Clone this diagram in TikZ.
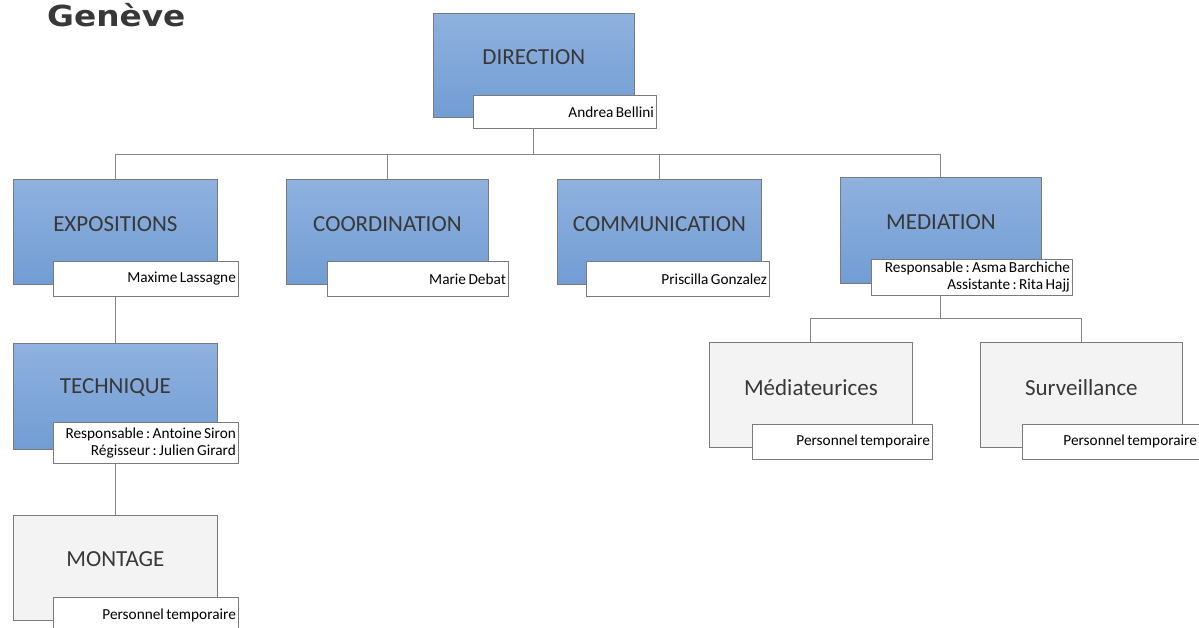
\documentclass[tikz,border=0pt]{standalone}
\usepackage{fontspec}
\setmainfont{Carlito}
\newfontfamily\genfont[FakeStretch=1.13]{DejaVu Sans}
\usetikzlibrary{shadings,calc}
\definecolor{blueTop}{HTML}{8FB1DE}
\definecolor{blueBot}{HTML}{719DD4}
\definecolor{greyFill}{HTML}{F3F3F3}
\definecolor{edge}{HTML}{7A7A7A}
\definecolor{titleCol}{HTML}{383838}
\definecolor{lineCol}{HTML}{858585}
\newcommand{\lblfont}{\fontsize{15.3}{17}\selectfont}
\newcommand{\tightspaces}{\frenchspacing\spaceskip=0.16em\relax}
\tikzset{
  bluebox/.style={draw=edge, line width=0.8pt, top color=blueTop, bottom color=blueBot, anchor=north west, inner sep=0pt},
  greybox/.style={draw=edge, line width=0.8pt, fill=greyFill, anchor=north west, inner sep=0pt},
  lbl/.style={draw=edge, line width=0.8pt, fill=white, anchor=north west, align=right, inner xsep=2.5pt, inner ysep=0pt, font=\lblfont, text=black, execute at begin node=\tightspaces},
  ttl/.style={font=\fontsize{23}{26}\selectfont, text=titleCol, inner sep=0pt},
  conn/.style={draw=lineCol, line width=0.9pt}
}
\begin{document}
\begin{tikzpicture}[x=1pt,y=-1pt]
\useasboundingbox (0,0) rectangle (1199,628);
\fill[white] (0,0) rectangle (1199,628);

% title
\node[anchor=base west, inner sep=0pt, font=\genfont\bfseries\fontsize{29}{32}\selectfont, text=titleCol] (geneve) at (47,27) {Genève};

% boxes
\node[bluebox, minimum width=201, minimum height=104] (dir) at (433,13) {};
\node[bluebox, minimum width=204, minimum height=105] (expo) at (13,179) {};
\node[bluebox, minimum width=202, minimum height=105] (coord) at (286,179) {};
\node[bluebox, minimum width=204, minimum height=105] (comm) at (557,179) {};
\node[bluebox, minimum width=201, minimum height=106] (med) at (840,177) {};
\node[bluebox, minimum width=204, minimum height=106] (tech) at (13,343) {};
\node[greybox, minimum width=204, minimum height=105] (mont) at (13,515) {};
\node[greybox, minimum width=203, minimum height=105] (mediat) at (709,342) {};
\node[greybox, minimum width=202, minimum height=105] (surv) at (980,342) {};

% box titles
\node[ttl] (dirT) at ($(dir.north)+(0,44)$) {DIRECTION};
\node[ttl] (expoT) at ($(expo.north)+(0,45)$) {EXPOSITIONS};
\node[ttl] (coordT) at ($(coord.north)+(0,45)$) {COORDINATION};
\node[ttl] (commT) at ($(comm.north)+(0,45)$) {COMMUNICATION};
\node[ttl] (medT) at ($(med.north)+(0,45)$) {MEDIATION};
\node[ttl] (techT) at ($(tech.north)+(0,45)$) {TECHNIQUE};
\node[ttl] (montT) at ($(mont.north)+(0,44)$) {MONTAGE};
\node[ttl] (mediatT) at ($(mediat.north)+(0,46)$) {Médiateurices};
\node[ttl] (survT) at ($(surv.north)+(0,46)$) {Surveillance};

% connectors
\coordinate (bus) at ($(dir.south)+(0,37)$);
\coordinate (mbus) at ($(med.south)+(0,35)$);
\draw[conn] (dir.south) -- (bus);
\draw[conn] (bus) -| (expo.north);
\draw[conn] (bus) -| (coord.north);
\draw[conn] (bus) -| (comm.north);
\draw[conn] (bus) -| (med.north);
\draw[conn] (expo.south) -- (tech.north);
\draw[conn] (tech.south) -- (mont.north);
\draw[conn] (med.south) -- (mbus);
\draw[conn] (mbus) -| (mediat.north);
\draw[conn] (mbus) -| (surv.north);

% labels
\node[lbl, text width=178, minimum height=33] (dirL) at (473,95) {\mbox{Andrea Bellini}};
\node[lbl, text width=180, minimum height=35] (expoL) at (53,261) {\mbox{Maxime Lassagne}};
\node[lbl, text width=176, minimum height=35] (coordL) at (327,261) {\mbox{Marie Debat}};
\node[lbl, text width=178, minimum height=35] (commL) at (586,261) {\mbox{Priscilla Gonzalez}};
\node[lbl, text width=196, minimum height=36] (medL) at (871,259) {\mbox{Responsable : Asma Barchiche}\\\mbox{Assistante : Rita Hajj}};
\node[lbl, text width=180, minimum height=41] (techL) at (53,422) {\mbox{Responsable : Antoine Siron}\\\mbox{Régisseur : Julien Girard}};
\node[lbl, text width=180, minimum height=36] (montL) at (53,597) {\mbox{Personnel temporaire}};
\node[lbl, text width=175, minimum height=35] (mediatL) at (752,424) {\mbox{Personnel temporaire}};
\node[lbl, text width=172, minimum height=35] (survL) at (1022,424) {\mbox{Personnel temporaire}};
\end{tikzpicture}
\end{document}
